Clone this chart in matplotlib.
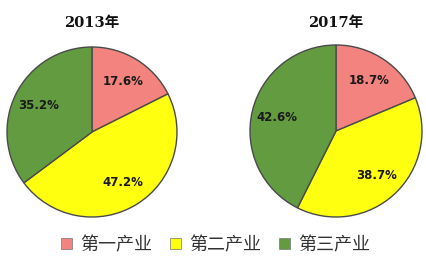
import matplotlib
matplotlib.use("Agg")
import matplotlib.pyplot as plt
from matplotlib.patches import Patch

plt.rcParams['font.family'] = ['DejaVu Sans', 'Noto Sans CJK SC']

categories = ["第一产业", "第二产业", "第三产业"]
years = ["2013年", "2017年"]
values_2013 = [17.6, 47.2, 35.2]
values_2017 = [18.7, 38.7, 42.6]
colors = ["#F2837E", "#FFFF10", "#639C40"]

W, H = 427, 269
fig = plt.figure(figsize=(W / 100, H / 100), dpi=100)
fig.patch.set_facecolor("white")

def add_pie(cx, cy, r, vals, title):
    ax = fig.add_axes([(cx - r) / W, 1 - (cy + r) / H, 2 * r / W, 2 * r / H])
    wedges, texts, autotexts = ax.pie(
        vals, colors=colors, startangle=90, counterclock=False,
        autopct=lambda p: f"{p:.1f}%", pctdistance=0.70,
        wedgeprops=dict(edgecolor="#4a4a4a", linewidth=1.0),
        textprops=dict(fontsize=8.5, fontweight="bold", color="#1a1a1a"))
    ax.set_xlim(-1.0, 1.0)
    ax.set_ylim(-1.0, 1.0)
    ax.set_aspect("equal")
    ax.axis("off")
    fig.text(cx / W, 1 - 23 / H, title, ha="center", va="center",
             fontsize=10.5, fontweight="bold", color="#111111",
             family=['DejaVu Serif', 'Noto Sans CJK SC'])

add_pie(92, 132, 85, values_2013, years[0])
add_pie(336, 131, 86, values_2017, years[1])

handles = [Patch(facecolor=c, edgecolor="#777777", linewidth=0.5) for c in colors]
fig.legend(handles, categories, loc="center", bbox_to_anchor=(0.505, 1 - 245 / H),
           ncol=3, frameon=False, handlelength=0.6, handleheight=0.6,
           handletextpad=0.45, columnspacing=1.0,
           prop=dict(family=['Noto Sans CJK SC'], size=13))
for t in fig.legends[0].get_texts():
    t.set_color("#333333")

fig.savefig("out.png", dpi=100, facecolor="white")
